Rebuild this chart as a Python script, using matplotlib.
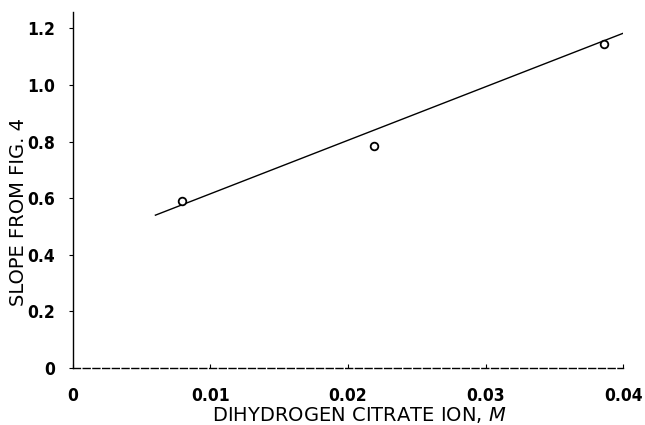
import matplotlib
matplotlib.use('Agg')
import matplotlib.pyplot as plt

# measured points
conc = [0.0079, 0.0219, 0.0386]
slope = [0.59, 0.785, 1.145]

# fitted line end points
fit_x = [0.006, 0.0404]
fit_y = [0.54, 1.19]

xticks = [0, 0.01, 0.02, 0.03, 0.04]
xtick_labels = ['0', '0.01', '0.02', '0.03', '0.04']
yticks = [0, 0.2, 0.4, 0.6, 0.8, 1.0, 1.2]
ytick_labels = ['0', '0.2', '0.4', '0.6', '0.8', '1.0', '1.2']

tick_font = dict(family='DejaVu Sans', stretch='condensed', weight='bold', size=12.5)

fig = plt.figure(figsize=(6.45, 4.25), dpi=100)
ax = fig.add_axes([0.113, 0.134, 0.853, 0.838])

ax.plot(fit_x, fit_y, color='black', lw=1.0)
ax.plot(conc, slope, 'o', mfc='white', mec='black', ms=5.5, mew=1.3)

ax.set_xlim(0, 0.04)
ax.set_ylim(0, 1.258)

ax.spines['top'].set_visible(False)
ax.spines['right'].set_visible(False)
ax.spines['bottom'].set_linestyle((0, (5, 2)))
ax.spines['bottom'].set_linewidth(1.0)
ax.spines['left'].set_linewidth(1.0)

ax.set_xticks(xticks)
ax.set_xticklabels(xtick_labels, fontdict=tick_font)
ax.set_yticks(yticks)
ax.set_yticklabels(ytick_labels, fontdict=tick_font)
ax.tick_params(axis='x', direction='in', length=3, pad=14)
ax.tick_params(axis='y', direction='out', length=3, pad=10)

ax.set_xlabel('DIHYDROGEN CITRATE ION, $\\mathit{M}$', fontsize=14)
ax.set_ylabel('SLOPE FROM FIG. 4', fontsize=14)
ax.xaxis.set_label_coords(0.52, -0.103)
ax.yaxis.set_label_coords(-0.081, 0.438)

fig.savefig('out.png', dpi=100)
